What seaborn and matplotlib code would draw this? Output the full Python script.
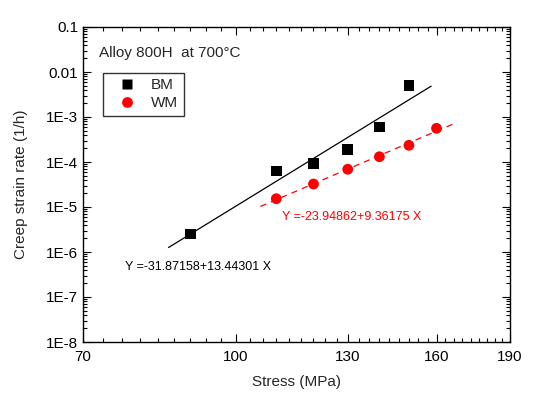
import numpy as np
import pandas as pd
import matplotlib
matplotlib.use("Agg")
import matplotlib.pyplot as plt
import seaborn as sns
from matplotlib.ticker import FixedLocator, NullFormatter, LogLocator

sns.set_style("white")
plt.rcParams['font.family'] = ['Liberation Sans', 'DejaVu Sans']

# data
bm_stress = [90, 110, 120, 130, 140, 150]
bm_rate = [2.5e-6, 6.3e-5, 9.3e-5, 1.9e-4, 6.0e-4, 5.0e-3]
wm_stress = [110, 120, 130, 140, 150, 160]
wm_rate = [1.53e-5, 3.24e-5, 6.9e-5, 1.31e-4, 2.35e-4, 5.6e-4]

# fit equations log10(rate) = a + b*log10(stress)
bm_fit = (-31.87158, 13.44301)
wm_fit = (-23.94862, 9.36175)
bm_fit_range = [85.5, 158.0]
wm_fit_range = [106.0, 166.3]

x_ticks = [70, 100, 130, 160, 190]
y_ticks = [1e-8, 1e-7, 1e-6, 1e-5, 1e-4, 1e-3, 1e-2, 1e-1]
y_labels = ["1E-8", "1E-7", "1E-6", "1E-5", "1E-4", "1E-3", "0.01", "0.1"]

df = pd.DataFrame({
    "stress": bm_stress + wm_stress,
    "rate": bm_rate + wm_rate,
    "group": ["BM"] * len(bm_stress) + ["WM"] * len(wm_stress),
})

def fit_df(rng, coef):
    xs = np.array(rng)
    return pd.DataFrame({"stress": xs, "rate": 10 ** (coef[0] + coef[1] * np.log10(xs))})

fig = plt.figure(figsize=(5.38, 4.0), dpi=100)
ax = fig.add_axes([83 / 538, 1 - 342 / 400, (510 - 83) / 538, (342 - 27) / 400])
ax.set_xscale("log")
ax.set_yscale("log")

sns.lineplot(data=fit_df(bm_fit_range, bm_fit), x="stress", y="rate", ax=ax,
             color="black", lw=0.9, legend=False)
sns.lineplot(data=fit_df(wm_fit_range, wm_fit), x="stress", y="rate", ax=ax,
             color="red", lw=0.9, legend=False)
ax.lines[-1].set_dashes([5, 4])

sns.scatterplot(data=df, x="stress", y="rate", hue="group", style="group",
                palette={"BM": "black", "WM": "red"},
                markers={"BM": "s", "WM": "o"}, s=60, edgecolor="none", ax=ax)

ax.set_xlim(70, 190)
ax.set_ylim(1e-8, 0.1)
ax.xaxis.set_major_locator(FixedLocator(x_ticks))
ax.set_xticklabels([str(t) for t in x_ticks])
minors = [v for v in np.arange(70, 190.01, 10 / 3) if min(abs(v - t) for t in x_ticks) > 0.1]
ax.xaxis.set_minor_locator(FixedLocator(minors))
ax.xaxis.set_minor_formatter(NullFormatter())
ax.yaxis.set_major_locator(FixedLocator(y_ticks))
ax.set_yticklabels(y_labels)
ax.yaxis.set_minor_locator(LogLocator(base=10, subs=np.arange(2, 10), numticks=20))
ax.yaxis.set_minor_formatter(NullFormatter())

ax.tick_params(which="both", direction="in", top=True, right=True, bottom=True, left=True,
               colors="black", labelsize=11, width=0.8)
ax.tick_params(which="major", length=6)
ax.tick_params(which="minor", length=3)
ax.tick_params(axis="x", pad=6)
for sp in ax.spines.values():
    sp.set_color("black")
    sp.set_linewidth(1.0)

ax.set_xlabel("Stress (MPa)", fontsize=11, labelpad=8)
ax.set_ylabel("Creep strain rate (1/h)", fontsize=11, labelpad=13)

fig.text(99 / 538, 1 - 53 / 400, "Alloy 800H  at 700°C", fontsize=11, va="center", ha="left")
fig.text(125 / 538, 1 - 267 / 400, "Y =-31.87158+13.44301 X", fontsize=9, va="center",
         ha="left", color="black")
fig.text(282 / 538, 1 - 217 / 400, "Y =-23.94862+9.36175 X", fontsize=9, va="center",
         ha="left", color="red")

handles, labels = ax.get_legend_handles_labels()
leg = ax.legend(handles, labels, loc="upper left", bbox_to_anchor=((103 - 83) / 427, (342 - 73) / 315),
                fontsize=11, frameon=True, fancybox=False, edgecolor="black",
                borderpad=0.35, handletextpad=0.3, handlelength=2.5, labelspacing=0.25,
                borderaxespad=0, markerscale=1.0)
leg.get_frame().set_linewidth(1.0)

fig.savefig("out.png", dpi=100)
